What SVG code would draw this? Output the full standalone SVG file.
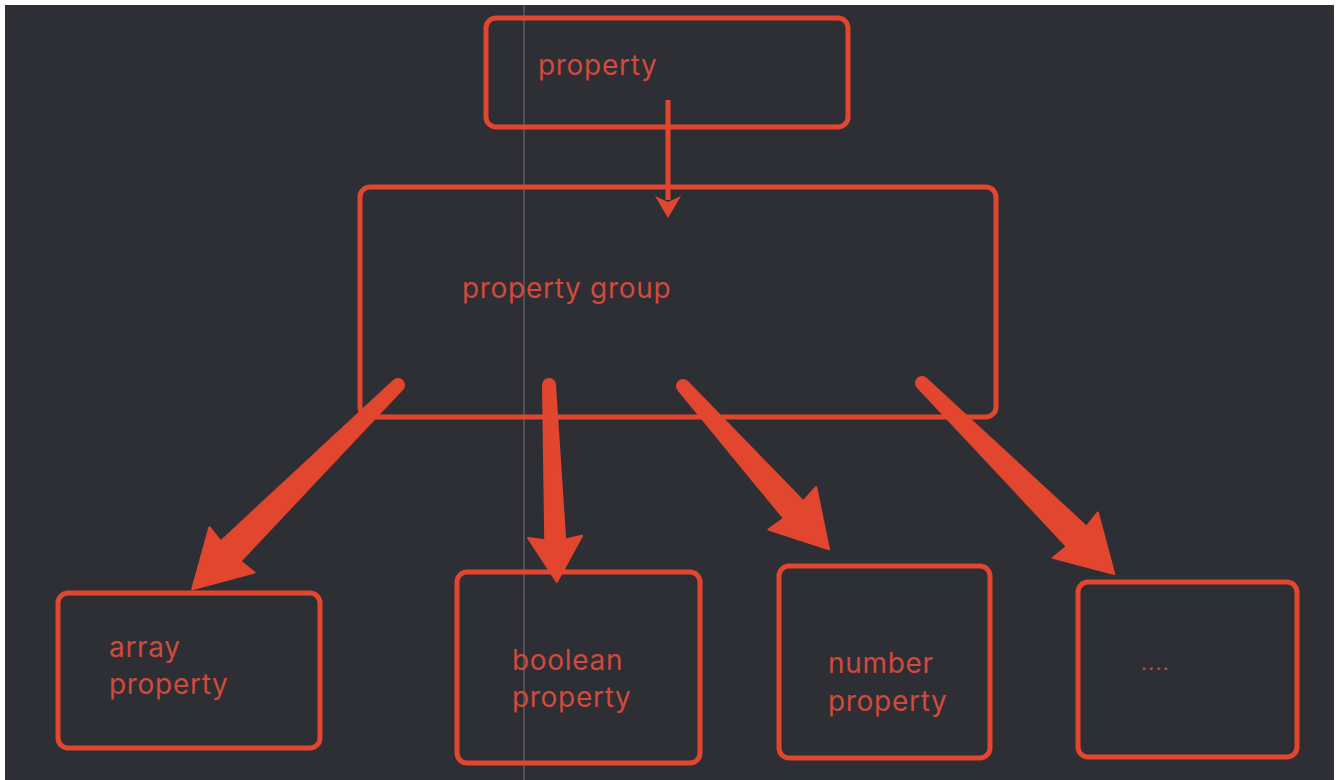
<svg xmlns="http://www.w3.org/2000/svg" width="1338" height="780" viewBox="0 0 1338 780">
<style>
.node rect{fill:none;stroke:#e2462f;stroke-width:5}
.node text{fill:#d24a3c;font-family:Inter,"Liberation Sans",sans-serif;font-size:28px;letter-spacing:0.7px}
.arrow{fill:#e2462f;stroke:#e2462f;stroke-width:2;stroke-linejoin:round}
</style>
<rect x="0" y="0" width="1338" height="780" fill="#fff"/>
<rect x="5" y="5" width="1329" height="775" fill="#2e2f34"/>
<line x1="524" y1="5" x2="524" y2="780" stroke="#5c5d62" stroke-width="1.5"/>
<g id="connectors">
<line x1="668" y1="100" x2="668" y2="200" stroke="#e2462f" stroke-width="5"/>
<polygon points="655,196 668,202 681,196 668,218" fill="#e2462f"/>
<path class="arrow" transform="translate(398,385) rotate(135.2)" d="M0,-6 L236,-14 L234,-32 L290,0 L234,32 L236,14 L0,6 A6,6 0 0 1 0,-6 Z"/>
<path class="arrow" transform="translate(549,385) rotate(87.7)" d="M0,-6 L155,-10 L152,-27 L197,0 L152,27 L155,10 L0,6 A6,6 0 0 1 0,-6 Z"/>
<path class="arrow" transform="translate(683,386) rotate(48.2)" d="M0,-6 L166,-13 L164,-32 L219,0 L164,32 L166,13 L0,6 A6,6 0 0 1 0,-6 Z"/>
<path class="arrow" transform="translate(922,383) rotate(44.8)" d="M0,-6 L218,-14 L216,-32 L271,0 L216,32 L218,14 L0,6 A6,6 0 0 1 0,-6 Z"/>
</g>
<g id="property" class="node">
<rect x="486" y="18" width="362" height="109" rx="10"/>
<text x="538" y="75">property</text>
</g>
<g id="property-group" class="node">
<rect x="360" y="187" width="636" height="230" rx="10"/>
<text x="462" y="298">property group</text>
</g>
<g id="array-property" class="node">
<rect x="58" y="593" width="262" height="155" rx="10"/>
<text x="109" y="657">array</text>
<text x="109" y="694">property</text>
</g>
<g id="boolean-property" class="node">
<rect x="457" y="572" width="243" height="191" rx="10"/>
<text x="512" y="670">boolean</text>
<text x="512" y="707">property</text>
</g>
<g id="number-property" class="node">
<rect x="779" y="566" width="211" height="192" rx="10"/>
<text x="828" y="673">number</text>
<text x="828" y="711">property</text>
</g>
<g id="more" class="node">
<rect x="1078" y="582" width="219" height="175" rx="10"/>
<text x="1141" y="670" style="font-size:20px;letter-spacing:1.5px">....</text>
</g>
</svg>
